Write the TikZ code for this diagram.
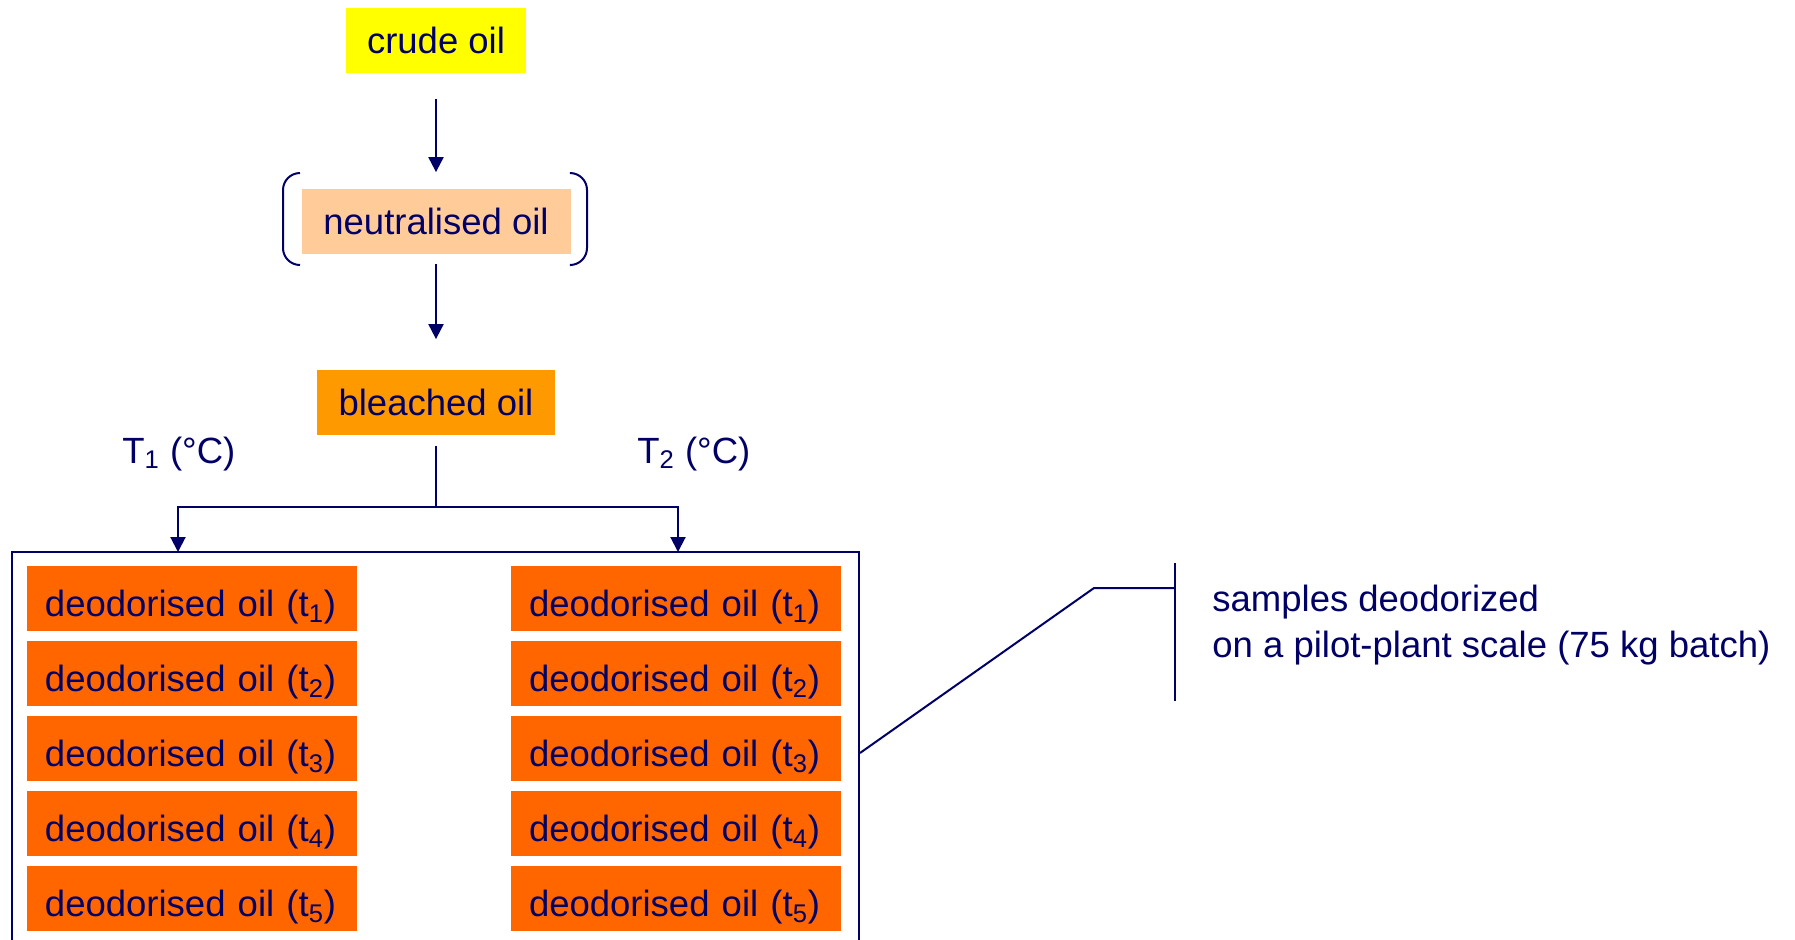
\documentclass[tikz,border=0pt]{standalone}
\usepackage{fontspec}
\setmainfont{Liberation Sans}
\usetikzlibrary{positioning}
\usetikzlibrary{arrows.meta}
\definecolor{navy}{RGB}{0,0,102}
\definecolor{crudefill}{RGB}{255,255,0}
\definecolor{neutralfill}{RGB}{255,204,153}
\definecolor{bleachfill}{RGB}{255,153,0}
\definecolor{deofill}{RGB}{255,102,0}

\begin{document}
\begin{tikzpicture}[x=0.5pt,y=-0.5pt,node distance=90.5pt,on grid,
	every node/.style={text=navy,font=\fontsize{18.25}{23}\selectfont},
	oil/.style={rectangle,minimum height=32.5pt,inner sep=0pt},
	deo/.style={oil,fill=deofill,text width=147pt,inner xsep=9pt,inner ysep=5pt,
		text height=20.5pt,text depth=2pt,align=left},
	line/.style={draw=navy,line width=1pt},
	flow/.style={line,-{Triangle[length=7.5pt,width=7.5pt]}}]
		\useasboundingbox (0,0) rectangle (1795,939);
		
		\node[oil,fill=crudefill,minimum width=90pt] (crude) at (436,40) {crude oil};
		\node[oil,fill=neutralfill,minimum width=134.5pt] (neutral) [below=of crude] {neutralised oil};
		\node[oil,fill=bleachfill,minimum width=119pt] (bleached) [below=of neutral] {bleached oil};
		
		\node[anchor=base west,inner sep=0pt] (T_1) at (122,463) {T\textsubscript{1} (°C)};
		\node[anchor=base west,inner sep=0pt] (T_2) at (637,463) {T\textsubscript{2} (°C)};
		
		\node[line,minimum width=423.5pt,minimum height=201pt,inner sep=0pt] (batch) at (435.5,753) {};
		
		\node[deo] (l_1) at (192,598) {deodorised oil (t\textsubscript{1})};
		\node[deo] (l_2) [below=37.5pt of l_1] {deodorised oil (t\textsubscript{2})};
		\node[deo] (l_3) [below=37.5pt of l_2] {deodorised oil (t\textsubscript{3})};
		\node[deo] (l_4) [below=37.5pt of l_3] {deodorised oil (t\textsubscript{4})};
		\node[deo] (l_5) [below=37.5pt of l_4] {deodorised oil (t\textsubscript{5})};
		\node[deo] (r_1) [right=242pt of l_1] {deodorised oil (t\textsubscript{1})};
		\node[deo] (r_2) [right=242pt of l_2] {deodorised oil (t\textsubscript{2})};
		\node[deo] (r_3) [right=242pt of l_3] {deodorised oil (t\textsubscript{3})};
		\node[deo] (r_4) [right=242pt of l_4] {deodorised oil (t\textsubscript{4})};
		\node[deo] (r_5) [right=242pt of l_5] {deodorised oil (t\textsubscript{5})};
		
		\node[anchor=west,align=left,inner sep=0pt] (samples) at (1212,625) {samples deodorized\\on a pilot-plant scale (75 kg batch)};
		
		\coordinate (split) at (436,507);
		\coordinate (in_1) at (178,552);
		\coordinate (in_2) at (678,552);
		\coordinate (knee) at (1094,588);
		\coordinate (bar) at (1175,588);
		\coordinate (bar_top) at (1175,563);
		\coordinate (bar_bot) at (1175,701);
		
		% brackets round the neutralised oil
		\draw[line,rounded corners=8.5pt] (300,173) -- (283,173) -- (283,265) -- (300,265);
		\draw[line,rounded corners=8.5pt] (571,173) -- (587,173) -- (587,265) -- (571,265);
		
		\draw[flow,shorten <=13pt,shorten >=8pt] (crude) -- (neutral);
		\draw[flow,shorten <=5pt,shorten >=15pt] (neutral) -- (bleached);
		\draw[line,shorten <=5.5pt] (bleached) -- (split);
		\draw[flow] (split) -| (in_1);
		\draw[flow] (split) -| (in_2);
		\draw[line] (batch.east) -- (knee) -- (bar);
		\draw[line] (bar_top) -- (bar_bot);
\end{tikzpicture}
\end{document}
